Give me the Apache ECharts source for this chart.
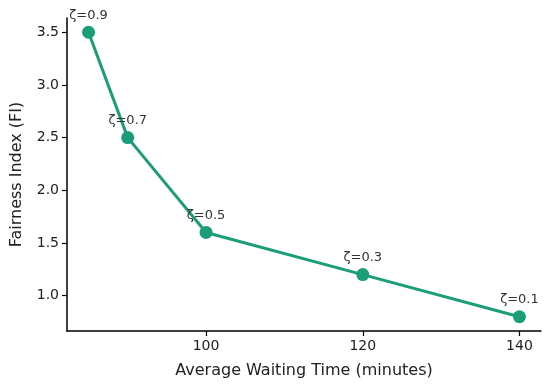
<!DOCTYPE html>
<html><head><meta charset="utf-8">
<script src="https://cdn.jsdelivr.net/npm/echarts@6/dist/echarts.min.js"></script>
<style>html,body{margin:0;padding:0;background:#fff}#c{width:550px;height:386px}</style>
</head><body><div id="c"></div>
<script>
const waitTimes = [85, 90, 100, 120, 140];
const fairness = [3.5, 2.5, 1.6, 1.2, 0.8];
const zetaLabels = ['ζ=0.9', 'ζ=0.7', 'ζ=0.5', 'ζ=0.3', 'ζ=0.1'];
const xTicks = [100, 120, 140];
const yTicks = [1.0, 1.5, 2.0, 2.5, 3.0, 3.5];

const chart = echarts.init(document.getElementById('c'), null, {renderer: 'canvas'});
const font = 'DejaVu Sans';
chart.setOption({
  animation: false,
  backgroundColor: '#fff',
  grid: {left: 67, right: 9, top: 18, bottom: 55},
  xAxis: {
    type: 'value', min: 82.25, max: 142.75,
    name: 'Average Waiting Time (minutes)', nameLocation: 'middle', nameGap: 32,
    nameTextStyle: {fontFamily: font, fontSize: 16, color: '#222'},
    axisLine: {show: true, onZero: false, lineStyle: {color: '#000', width: 1.5}},
    axisTick: {show: true, length: 5, inside: false, customValues: xTicks, lineStyle: {color: '#000', width: 1.2}},
    axisLabel: {customValues: xTicks, fontFamily: font, fontSize: 14, color: '#222', margin: 8},
    splitLine: {show: false}
  },
  yAxis: {
    type: 'value', min: 0.665, max: 3.635,
    name: 'Fairness Index (FI)', nameLocation: 'middle', nameGap: 42, nameRotate: 90,
    nameTextStyle: {fontFamily: font, fontSize: 16, color: '#222'},
    axisLine: {show: true, onZero: false, lineStyle: {color: '#000', width: 1.5}},
    axisTick: {show: true, length: 5, inside: false, customValues: yTicks, lineStyle: {color: '#000', width: 1.2}},
    axisLabel: {customValues: yTicks, fontFamily: font, fontSize: 14, color: '#222', margin: 8,
      formatter: v => v.toFixed(1)},
    splitLine: {show: false}
  },
  series: [{
    type: 'line',
    data: waitTimes.map((x, i) => [x, fairness[i]]),
    symbol: 'circle', symbolSize: 13,
    lineStyle: {color: '#1b9e77', width: 3},
    itemStyle: {color: '#1b9e77'},
    label: {
      show: true, position: 'top', distance: 4,
      formatter: p => zetaLabels[p.dataIndex],
      fontFamily: font, fontSize: 13, color: '#333'
    }
  }]
});
</script></body></html>
